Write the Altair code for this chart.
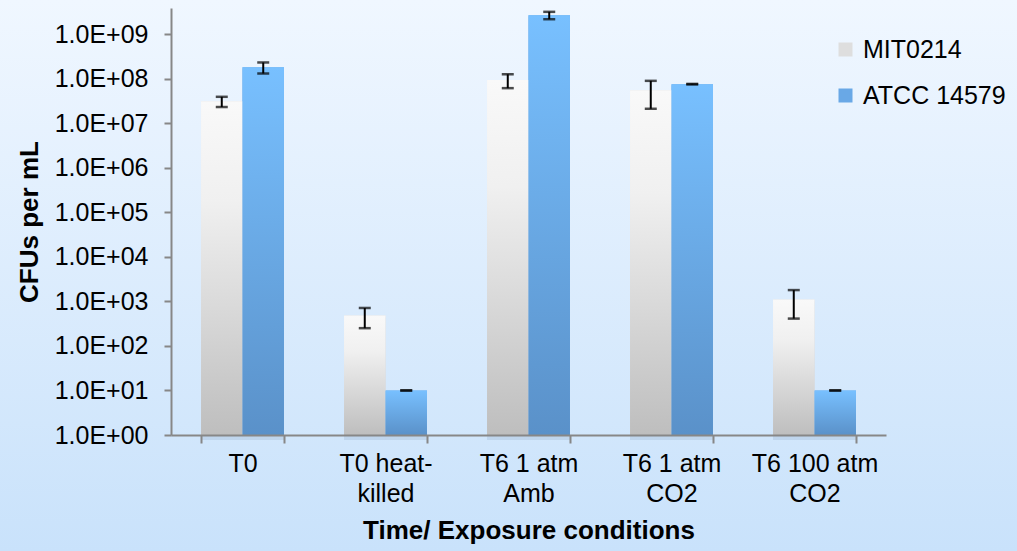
import altair as alt
import pandas as pd

# Exposure conditions (line breaks mark where the axis labels wrap)
conditions = ["T0", "T0 heat-\nkilled", "T6 1 atm\nAmb", "T6 1 atm\nCO2", "T6 100 atm\nCO2"]
strains = ["MIT0214", "ATCC 14579"]

# Mean CFUs per mL and error (±) for each strain
mit_cfu = [3.1e7, 480, 9.3e7, 5.5e7, 1100]
mit_err = [8e6, 230, 3.2e7, 3.4e7, 690]
atcc_cfu = [1.8e8, 10, 2.65e9, 7.5e7, 10]
atcc_err = [5e7, 0, 5e8, 1e6, 0]

y_ticks = [1, 1e1, 1e2, 1e3, 1e4, 1e5, 1e6, 1e7, 1e8, 1e9]
y_max = 3.84e9

rows = []
for strain, vals, errs in [(strains[0], mit_cfu, mit_err), (strains[1], atcc_cfu, atcc_err)]:
    for cond, v, e in zip(conditions, vals, errs):
        rows.append({"condition": cond, "strain": strain, "cfu": v,
                     "lo": v - e, "hi": v + e, "base": 1})
df = pd.DataFrame(rows)

W, H = 715, 427
PAD = {"left": 171, "top": 8, "right": 1017 - 171 - W, "bottom": 551 - 8 - H}
FONT = "Liberation Sans"
AXIS_GREY = "#878787"

bg_gradient = alt.LinearGradient(
    gradient="linear", x1=0, y1=0, x2=0, y2=1,
    stops=[alt.GradientStop(offset=0, color="#f0f7ff"),
           alt.GradientStop(offset=1, color="#c9e2fb")])
grey_gradient = alt.LinearGradient(
    gradient="linear", x1=0, y1=0, x2=0, y2=1,
    stops=[alt.GradientStop(offset=0, color="#f9f9f9"),
           alt.GradientStop(offset=0.3, color="#f0f0f0"),
           alt.GradientStop(offset=1, color="#bebebe")])
blue_gradient = alt.LinearGradient(
    gradient="linear", x1=0, y1=0, x2=0, y2=1,
    stops=[alt.GradientStop(offset=0, color="#78c0ff"),
           alt.GradientStop(offset=1, color="#5a91c9")])

x_enc = alt.X(
    "condition:N", sort=conditions,
    scale=alt.Scale(paddingInner=0.42, paddingOuter=0.21),
    axis=alt.Axis(
        title="Time/ Exposure conditions", labelAngle=0, tickBand="extent",
        labelExpr="split(datum.label, '\\n')", labelLineHeight=30,
        labelFontSize=25, labelPadding=8, labelColor="black",
        titleFontSize=26, titleFontWeight="bold", titlePadding=11, titleColor="black",
        tickSize=8, tickColor=AXIS_GREY, tickWidth=2,
        domainColor=AXIS_GREY, domainWidth=2, zindex=1,
    ),
)
xo_enc = alt.XOffset("strain:N", sort=strains,
                     scale=alt.Scale(domain=strains, paddingInner=0, paddingOuter=0))
y_enc = alt.Y(
    "cfu:Q",
    scale=alt.Scale(type="log", domain=[1, y_max], nice=False),
    axis=alt.Axis(
        title="CFUs per mL", values=y_ticks, grid=False,
        labelExpr="'1.0E+' + pad(toString(round(log(datum.value) / LN10)), 2, '0', 'left')",
        labelFontSize=25, labelPadding=16, labelColor="black",
        titleFontSize=26, titleFontWeight="bold", titlePadding=12, titleColor="black",
        tickSize=7, tickColor=AXIS_GREY, tickWidth=2,
        domainColor=AXIS_GREY, domainWidth=2, zindex=1,
    ),
)

base = alt.Chart(df)

background = alt.Chart(alt.Data(values=[{}])).mark_rect(color=bg_gradient).encode(
    x=alt.value(-PAD["left"]), x2=alt.value(W + PAD["right"]),
    y=alt.value(-PAD["top"]), y2=alt.value(H + PAD["bottom"]),
)

shadow = base.mark_bar(color="#2a4868", opacity=0.10, yOffset=2, y2Offset=5).encode(
    x=x_enc, xOffset=xo_enc, y=y_enc, y2="base:Q")

legend_bars = base.mark_bar().encode(
    x=x_enc, xOffset=xo_enc, y=y_enc, y2="base:Q",
    color=alt.Color("strain:N", sort=strains,
                    scale=alt.Scale(domain=strains, range=["#dedede", "#69a8e6"]),
                    legend=alt.Legend(
                        title=None, orient="none", legendX=662, legendY=29,
                        symbolType="square", symbolSize=196, symbolStrokeWidth=0,
                        labelFontSize=25, labelColor="black", labelOffset=5,
                        rowPadding=20, padding=0)),
)

mit_bars = base.transform_filter(alt.datum.strain == strains[0]).mark_bar(
    color=grey_gradient).encode(x=x_enc, xOffset=xo_enc, y=y_enc, y2="base:Q")
atcc_bars = base.transform_filter(alt.datum.strain == strains[1]).mark_bar(
    color=blue_gradient).encode(x=x_enc, xOffset=xo_enc, y=y_enc, y2="base:Q")

err_lines = base.mark_rule(color="black", strokeWidth=2).encode(
    x=x_enc, xOffset=xo_enc, y="lo:Q", y2="hi:Q")
err_caps_hi = base.mark_tick(color="black", orient="horizontal", size=12, thickness=2.5).encode(
    x=x_enc, xOffset=xo_enc, y="hi:Q")
err_caps_lo = base.mark_tick(color="black", orient="horizontal", size=12, thickness=2.5).encode(
    x=x_enc, xOffset=xo_enc, y="lo:Q")

chart = alt.layer(
    background, shadow, legend_bars, mit_bars, atcc_bars,
    err_lines, err_caps_hi, err_caps_lo,
).properties(
    width=W, height=H, padding=PAD,
    autosize=alt.AutoSizeParams(type="none"),
    background="#dcecfd",
).configure(font=FONT).configure_view(stroke=None)

chart.save("out.html", embed_options={"renderer": "svg", "actions": False})
